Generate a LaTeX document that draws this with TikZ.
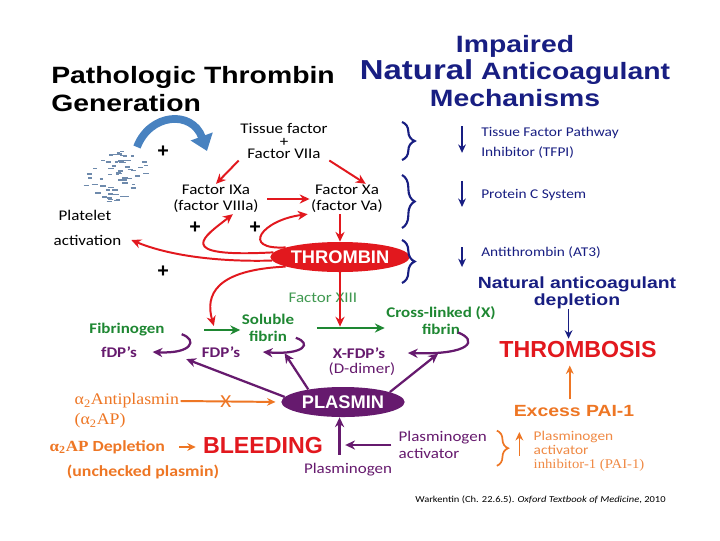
\documentclass[tikz,border=0pt]{standalone}
\usepackage{fontspec}
\setmainfont[FakeStretch=1.15]{Carlito}
\newfontfamily\headFont[FakeStretch=1.2]{Liberation Sans}
\newfontfamily\heavyFont{Liberation Sans}
\newfontfamily\serifFont[FakeStretch=1.1]{Liberation Serif}
\usetikzlibrary{shapes.geometric, arrows.meta, positioning, calc, decorations.pathreplacing}
\definecolor{thrombinRed}{RGB}{226, 24, 30}
\definecolor{fibrinGreen}{RGB}{30, 135, 50}
\definecolor{plasminPurple}{RGB}{102, 26, 110}
\definecolor{inhibitNavy}{RGB}{24, 30, 130}
\definecolor{lysisOrange}{RGB}{238, 118, 36}
\definecolor{plateletBlue}{RGB}{72, 130, 192}
\definecolor{dotGray}{RGB}{110, 138, 172}

\begin{document}
\begin{tikzpicture}[
    % GRID: one unit is one pixel of the slide, y grows downward
    x=0.025cm, y=-0.025cm,
    % --- Text Styles ---
    plainText/.style={font=\fontsize{10.5}{11}\selectfont, align=center, inner sep=1pt},
    navyText/.style={font=\fontsize{9.5}{14}\selectfont, text=inhibitNavy, align=left, anchor=west, inner sep=0pt},
    greenText/.style={plainText, font=\fontsize{10.5}{12}\selectfont\bfseries, text=fibrinGreen},
    purpleText/.style={plainText, text=plasminPurple},
    purpleBold/.style={purpleText, font=\fontsize{10.5}{11}\selectfont\bfseries},
    orangeText/.style={plainText, text=lysisOrange},
    headTitle/.style={font=\headFont\bfseries\fontsize{16.8}{19.5}\selectfont, inner sep=0pt},
    bigWord/.style={font=\heavyFont\bfseries\fontsize{16.5}{16.5}\selectfont, text=thrombinRed, inner sep=1pt},
    enzyme/.style={ellipse, minimum width=3.1cm, minimum height=0.75cm, inner sep=0pt,
        text=white, font=\heavyFont\bfseries\fontsize{13}{13}\selectfont},
    plusSign/.style={font=\heavyFont\bfseries\fontsize{14}{14}\selectfont, inner sep=0pt},
    % --- Arrow Styles ---
    redArrow/.style={-{Stealth[length=7pt, width=6.5pt]}, line width=1.4pt, draw=thrombinRed},
    greenArrow/.style={-{Stealth[length=7pt, width=6.5pt]}, line width=2pt, draw=fibrinGreen},
    purpleArrow/.style={-{Stealth[length=7pt, width=6.5pt]}, line width=1.6pt, draw=plasminPurple},
    orangeArrow/.style={-{Stealth[length=6pt, width=5.5pt]}, line width=1.4pt, draw=lysisOrange},
    navyArrow/.style={-{Stealth[length=6pt, width=5.5pt]}, line width=1.3pt, draw=inhibitNavy},
    blueArrow/.style={-{Triangle[length=11pt, width=16pt]}, line width=5.5pt, draw=plateletBlue},
    navyBrace/.style={decorate, decoration={brace, amplitude=9pt}, draw=inhibitNavy, line width=1.5pt},
    orangeBrace/.style={navyBrace, draw=lysisOrange}
]
    \fill[white] (0,0) rectangle (720,540);
    \useasboundingbox (0,0) rectangle (720,540);

    % --- HEADINGS ---
    \node[headTitle, align=left, anchor=west] (titleL) at (51,89) {Pathologic Thrombin\\Generation};
    \node[headTitle, text=inhibitNavy, align=center] (titleR) at (515,71)
        {Impaired\\{\fontsize{19.5}{19.5}\selectfont Natural} Anticoagulant\\Mechanisms};

    % --- COAGULATION CASCADE ---
    % 1. Platelet cloud
    \pgfmathsetseed{12}
    \foreach \k in {1,...,62}{
        \pgfmathsetmacro{\ang}{360*rnd}
        \pgfmathsetmacro{\rad}{sqrt(rnd)}
        \pgfmathsetmacro{\dotX}{114 + \rad*(34*cos(\ang)*0.85 + 22*sin(\ang)*0.53)}
        \pgfmathsetmacro{\dotY}{177 + \rad*(-34*cos(\ang)*0.53 + 22*sin(\ang)*0.85)}
        \pgfmathsetmacro{\dashLen}{3+3*rnd}
        \draw[dotGray, line width=1pt] (\dotX,\dotY) -- ++(\dashLen,0);
    }
    \coordinate (cloudTop) at (137,147);
    \coordinate (tfEntry) at (207,151);
    \node[plainText, anchor=west] (plateletTxt) at (57,215) {Platelet};
    \node[plainText, anchor=west] (activationTxt) at (52,240) {activation};

    % 2. Factors
    \node[plainText, font=\fontsize{10.5}{9}\selectfont] (tissueF) at (284,141) {Tissue factor\\+\\Factor VIIa};
    \node[plainText] (factorIXa) at (216,199) {Factor IXa\\(factor VIIIa)};
    \node[plainText] (factorXa) at (347,199) {Factor Xa\\(factor Va)};
    \node[enzyme, fill=thrombinRed] (thrombin) at (340,257) {THROMBIN};

    % 3. Feedback signs
    \node[plusSign] (plusCloud) at (163,152) {+};
    \node[plusSign] (plusIXa) at (195,228) {+};
    \node[plusSign] (plusXa) at (255,228) {+};
    \node[plusSign] (plusPlatelet) at (163,272) {+};

    % --- Cascade Arrows ---
    \draw[blueArrow] (cloudTop) .. controls (150,113) and (192,110) .. (tfEntry);
    \draw[redArrow] (tissueF.south west) -- (factorIXa.north);
    \draw[redArrow] (tissueF.south east) -- ($(factorXa.north)!0.5!(factorXa.north east)$);
    \draw[redArrow, shorten <=5pt] (factorIXa.east) -- (factorXa.west);
    \draw[redArrow] (factorXa.south -| thrombin.north) -- (thrombin.north);
    \draw[redArrow] (thrombin.176) .. controls (170,258) and (205,236) .. ([xshift=12pt]factorIXa.south);
    \draw[redArrow] (thrombin.170) .. controls (240,250) and (262,220) .. ([xshift=-28pt]factorXa.south);
    \draw[redArrow] (thrombin.183) .. controls (220,262) and (170,256) .. ([xshift=6pt]activationTxt.east);

    % --- FIBRIN FORMATION ---
    \node[greenText] (fibrinogen) at (127,330) {Fibrinogen};
    \node[greenText] (soluble) at (268,328) {Soluble\\fibrin};
    \node[greenText] (crossLinked) at (441,321) {Cross-linked (X)\\fibrin};
    \node[plainText, text=fibrinGreen!85!white] (factorXIII) at (323,298) {Factor XIII};
    \node[purpleBold] (fdpSmall) at (119,352) {fDP's};
    \node[purpleBold] (fdpBig) at (221,352) {FDP's};
    \node[purpleBold] (xfdp) at (359,353) {X-FDP's};
    \node[purpleText] (dDimer) at (362,369) {(D-dimer)};

    \coordinate (solubleOut) at ([xshift=15pt]soluble.east);
    \draw[greenArrow] ([xshift=27pt]fibrinogen.east) -- coordinate[pos=0.3] (fibrinHit) (soluble.west |- fibrinogen.east);
    \draw[greenArrow] (solubleOut) -- (solubleOut -| crossLinked.west);
    \draw[redArrow, shorten >=3pt] (thrombin.190) .. controls (215,270) and (205,295) .. (fibrinHit);
    \draw[redArrow, shorten >=1pt] (thrombin.south) -- (thrombin.south |- solubleOut);

    % Degradation loops
    \draw[purpleArrow] ([xshift=11pt,yshift=-3pt]fibrinogen.east) .. controls (198,340) and (192,354) .. ([xshift=10pt]fdpSmall.east);
    \draw[purpleArrow] ([yshift=-7pt]soluble.east) .. controls (312,343) and (305,355) .. ([xshift=15pt]fdpBig.east);
    \draw[purpleArrow] ([xshift=12pt,yshift=3pt]crossLinked.south) .. controls (478,340) and (472,355) .. ([xshift=15pt]xfdp.east);

    % --- FIBRINOLYSIS ---
    \node[enzyme, fill=plasminPurple, minimum width=3.08cm] (plasmin) at (343,402) {PLASMIN};
    \node[orangeText, font=\serifFont\fontsize{11.5}{12}\selectfont, anchor=west] (antiplasmin) at (73,401) {α\textsubscript{2}Antiplasmin};
    \node[orangeText, font=\serifFont\fontsize{11.5}{12}\selectfont, anchor=west] (alphaAP) at (73,421) {(α\textsubscript{2}AP)};
    \node[orangeText, font=\fontsize{11}{12}\selectfont\bfseries, anchor=west] (depletionAP) at (48,447)
        {{\serifFont α\textsubscript{2}AP} Depletion};
    \node[bigWord] (bleeding) at (263,446) {BLEEDING};
    \node[orangeText, font=\fontsize{11}{12}\selectfont\bfseries] (unchecked) at (143,472) {(unchecked plasmin)};
    \node[purpleText] (plasminogen) at (348,470) {Plasminogen};
    \node[purpleText, align=left, anchor=west, font=\fontsize{10.5}{11.5}\selectfont] (activator) at (397,445) {Plasminogen\\activator};

    \draw[orangeArrow, shorten >=4pt] (antiplasmin.east) -- (plasmin.west)
        node[pos=0.45, text=lysisOrange, font=\fontsize{13}{13}\selectfont] (blockMark) {X};
    \draw[orangeArrow, shorten <=9pt, shorten >=4pt] (depletionAP.east) -- (depletionAP.east -| bleeding.west);
    \coordinate (pgStem) at ([xshift=-6pt, yshift=5pt]plasminogen.north);
    \draw[purpleArrow] (pgStem) -- (pgStem |- plasmin.south);
    \draw[purpleArrow] ([xshift=-4pt]activator.west) -- ([xshift=4pt]pgStem |- activator.west);
    \draw[purpleArrow] (plasmin.175) -- ([xshift=-10pt]fdpBig.south west);
    \draw[purpleArrow] (plasmin.160) -- ([xshift=-8pt,yshift=-7pt]soluble.south east);
    \draw[purpleArrow] (plasmin.12) -- ([xshift=-2pt,yshift=-12pt]crossLinked.south);

    % --- THROMBOSIS SIDE ---
    \node[headTitle, text=inhibitNavy, align=center, font=\headFont\bfseries\fontsize{11.5}{12}\selectfont] (naturalDep) at (577,293)
        {Natural anticoagulant\\depletion};
    \node[bigWord] (thrombosis) at (578,350) {THROMBOSIS};
    \node[headTitle, text=lysisOrange, font=\headFont\bfseries\fontsize{11.5}{12}\selectfont] (excessPAI) at (574,411) {Excess PAI-1};
    \node[orangeText, align=left, anchor=west, font=\fontsize{9.5}{10}\selectfont, text=lysisOrange!85!white] (paiTxt) at (532,451)
        {Plasminogen\\activator\\{\serifFont inhibitor-1 (PAI-1)}};

    \draw[navyArrow, shorten >=1pt] ([xshift=-6pt]naturalDep.south) -- ([xshift=-6pt]naturalDep.south |- thrombosis.north);
    \draw[orangeArrow, shorten <=4pt, shorten >=4pt] ([xshift=-3pt]excessPAI.north) -- ([xshift=-3pt]excessPAI.north |- thrombosis.south);
    \draw[orangeBrace, line width=1.2pt, decoration={amplitude=8pt}] ([xshift=-25pt,yshift=-1pt]paiTxt.north west) -- ([xshift=-25pt,yshift=5pt]paiTxt.south west);
    \draw[orangeArrow, line width=1.2pt] ([xshift=-9pt,yshift=12pt]paiTxt.south west) -- ([xshift=-9pt,yshift=-2pt]paiTxt.north west);

    % --- NATURAL ANTICOAGULANTS ---
    \node[navyText] (tfpi) at (481,143) {Tissue Factor Pathway\\Inhibitor (TFPI)};
    \node[navyText] (proteinC) at (481,195) {Protein C System};
    \node[navyText] (antithrombin) at (481,253) {Antithrombin (AT3)};

    \draw[navyArrow] ([xshift=-13.5pt,yshift=12pt]tfpi.west) -- ([xshift=-13.5pt,yshift=-7pt]tfpi.west);
    \draw[navyArrow] ([xshift=-13.5pt,yshift=10pt]proteinC.west) -- ([xshift=-13.5pt,yshift=-8.5pt]proteinC.west);
    \draw[navyArrow] ([xshift=-13.5pt,yshift=4pt]antithrombin.west) -- ([xshift=-13.5pt,yshift=-10pt]antithrombin.west);

    \draw[navyBrace] (402,122) -- (402,160);
    \draw[navyBrace] (402,175) -- (402,228);
    \draw[navyBrace] (402,240) -- (402,283);

    % --- Source ---
    \node[font=\fontsize{6.5}{7}\selectfont, anchor=west, inner sep=0pt] (source) at (415,500)
        {Warkentin (Ch. 22.6.5). \textit{Oxford Textbook of Medicine}, 2010};

\end{tikzpicture}
\end{document}
